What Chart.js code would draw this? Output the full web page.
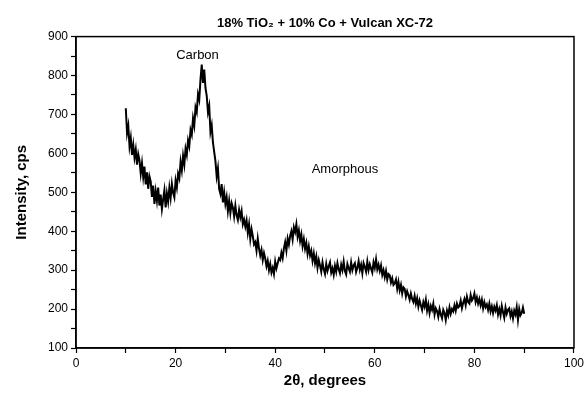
<!DOCTYPE html>
<html>
<head>
<meta charset="utf-8">
<script src="https://cdn.jsdelivr.net/npm/chart.js@4.4.0/dist/chart.umd.min.js"></script>
<style>
  body { margin: 0; background: #fff; }
  #wrap { width: 587px; height: 394px; }
</style>
</head>
<body>
<div id="wrap"><canvas id="xrd"></canvas></div>
<script>
  // scan grid: 10..90 deg, 0.25 deg step
  const startAngle = 10;
  const stepAngle = 0.25;

  // intensity (cps), 4 readings per degree
  const intensity = [
    716, 652, 671, 618,   640, 596, 622, 589,   610, 571, 598, 582,   548, 575, 539, 566,
    520, 551, 509, 541,   528, 488, 517, 470,   503, 478, 512, 466,   494, 457, 482, 505,
    461, 497, 476, 512,   486, 522, 499, 487,   530, 512, 548, 536,   578, 556, 594, 571,
    612, 596, 633, 618,   660, 648, 690, 671,   718, 706, 752, 738,   790, 828, 781, 815,
    768, 748, 706, 722,   655, 672, 628, 604,   580, 541, 562, 508,   496, 521, 474, 500,
    470, 488, 452, 478,   447, 472, 461, 438,   466, 441, 429, 455,   436, 452, 418, 430,
    412, 428, 396, 418,   380, 405, 388, 366,   372, 350, 381, 356,   338, 352, 326, 344,
    330, 310, 324, 300,   316, 294, 306, 290,   322, 305, 318, 330,   326, 345, 331, 356,
    372, 350, 381, 366,   388, 400, 379, 410,   398, 418, 386, 402,   375, 392, 362, 380,
    355, 370, 342, 361,   338, 350, 324, 343,   318, 335, 306, 326,   312, 296, 320, 302,
    290, 316, 298, 310,   320, 294, 305, 288,   311, 296, 318, 302,   292, 314, 300, 322,
    298, 289, 316, 305,   296, 320, 300, 312,   318, 295, 306, 323,   301, 314, 292, 318,
    308, 296, 322, 300,   315, 304, 294, 320,   306, 328, 302, 314,   298, 312, 288, 300,
    282, 298, 276, 290,   287, 268, 279, 262,   266, 276, 252, 270,   248, 262, 240, 256,
    252, 232, 246, 236,   224, 240, 226, 218,   234, 214, 228, 206,   222, 210, 198, 218,
    206, 224, 196, 212,   190, 208, 198, 214,   186, 202, 195, 180,   200, 186, 176, 198,
    190, 172, 196, 184,   204, 188, 200, 194,   210, 196, 214, 204,   208, 222, 202, 216,
    226, 210, 232, 218,   214, 236, 222, 228,   240, 218, 230, 214,   226, 210, 224, 202,
    218, 205, 212, 198,   214, 194, 207, 190,   206, 196, 210, 186,   200, 184, 208, 192,
    178, 204, 188, 198,   202, 182, 194, 176,   196, 186, 205, 172,   200, 184, 190, 204,
    188
  ];

  const xTicks = [0, 20, 40, 60, 80, 100];
  const yTicks = [100, 200, 300, 400, 500, 600, 700, 800, 900];

  const notes = [
    { text: 'Carbon', x: 24.4, y: 852 },
    { text: 'Amorphous', x: 54, y: 559 }
  ];

  const points = intensity.map((v, i) => ({ x: startAngle + i * stepAngle, y: v }));

  const font = 'Liberation Sans, Arial, sans-serif';

  // box around plot + text notes
  const extras = {
    id: 'extras',
    afterDraw(chart) {
      const c = chart.ctx, a = chart.chartArea;
      c.save();
      c.strokeStyle = '#000';
      c.lineWidth = 1.5;
      c.strokeRect(a.left, a.top, a.right - a.left, a.bottom - a.top);
      c.fillStyle = '#000';
      c.font = '13px ' + font;
      c.textAlign = 'center';
      c.textBaseline = 'middle';
      notes.forEach(n => {
        c.fillText(n.text, chart.scales.x.getPixelForValue(n.x), chart.scales.y.getPixelForValue(n.y));
      });
      c.restore();
    }
  };

  new Chart(document.getElementById('xrd'), {
    type: 'line',
    data: {
      datasets: [{
        data: points,
        borderColor: '#000',
        borderWidth: 2,
        pointRadius: 0,
        tension: 0
      }]
    },
    options: {
      animation: false,
      responsive: true,
      maintainAspectRatio: false,
      layout: { padding: { left: 0, right: 11, top: 0, bottom: 0 } },
      plugins: {
        legend: { display: false },
        tooltip: { enabled: false },
        title: {
          display: true,
          fullSize: false,
          text: '18% TiO\u2082 + 10% Co + Vulcan XC-72',
          color: '#000',
          font: { family: font, size: 13, weight: 'bold' },
          padding: { top: 16, bottom: 5 }
        }
      },
      scales: {
        x: {
          type: 'linear',
          min: 0, max: 100,
          afterFit: s => { s.height = 46; },
          border: { color: '#000', width: 1.5 },
          grid: { drawOnChartArea: false, tickLength: 5, tickColor: '#000', tickWidth: 1.2 },
          ticks: {
            stepSize: 10, autoSkip: false, maxRotation: 0, color: '#000',
            font: { family: font, size: 12 },
            callback: v => xTicks.includes(v) ? v : ''
          },
          title: {
            display: true, text: '2\u03b8, degrees', color: '#000',
            font: { family: font, size: 15, weight: 'bold' },
            padding: { top: 3 }
          }
        },
        y: {
          min: 100, max: 900,
          afterFit: s => { s.width = 76; },
          border: { color: '#000', width: 1.5 },
          grid: { drawOnChartArea: false, tickLength: 5, tickColor: '#000', tickWidth: 1.2 },
          ticks: {
            stepSize: 50, autoSkip: false, color: '#000',
            font: { family: font, size: 12 },
            callback: v => yTicks.includes(v) ? v : ''
          },
          title: {
            display: true, text: 'Intensity, cps', color: '#000',
            font: { family: font, size: 15, weight: 'bold' },
            padding: { top: 13, bottom: 0 }
          }
        }
      }
    },
    plugins: [extras]
  });
</script>
</body>
</html>
